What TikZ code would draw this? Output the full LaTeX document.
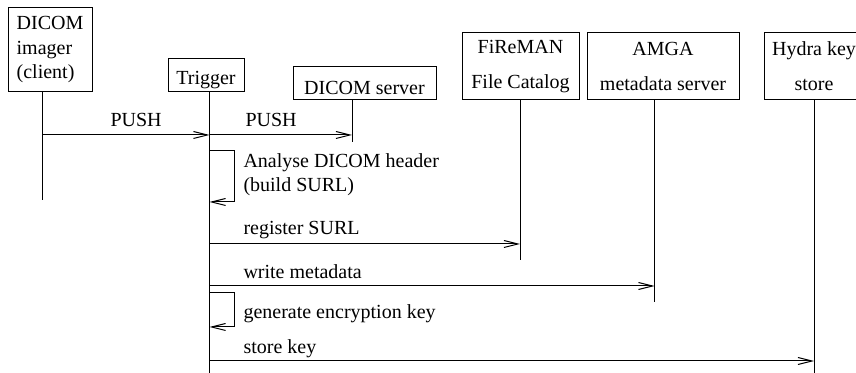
\documentclass[tikz,border=0pt]{standalone}
\usepackage{fontspec}
\setmainfont{Liberation Serif}
\usetikzlibrary{arrows.meta,positioning}

\begin{document}
\begin{tikzpicture}[x=0.5pt,y=-0.5pt,
	font=\fontsize{10}{12.25}\selectfont,
	line width=0.5pt,
	actor/.style={draw, inner sep=0pt, align=center, execute at begin node={\rule{0pt}{11.5pt}}},
	msg/.style={-{Straight Barb[length=7pt,width=3.5pt]}},
	lbl/.style={anchor=base west, inner sep=0pt}]
	\useasboundingbox (0,0) rectangle (856,373);

	\node[actor, align=left, minimum width=42pt, minimum height=42pt] (imager) at (50,50) {DICOM\\imager\\(client)};
	\node[actor, minimum width=38pt, minimum height=16.5pt] (trigger) at (206,75.5) {Trigger};
	\node[actor, minimum width=71.5pt, minimum height=16.5pt] (server) at (364.5,83.5) {DICOM server};
	\node[actor, minimum width=58.5pt, minimum height=33.5pt] (fireman) at (520.5,66.5) {FiReMAN\\[5.25pt]File Catalog};
	\node[actor, minimum width=76pt, minimum height=33.5pt] (amga) at (663,66.5) {AMGA\\[5.25pt]metadata server};
	\node[actor, minimum width=50pt, minimum height=33.5pt] (hydra) at (814,66.5) {Hydra key\\[5.25pt]store};

	\coordinate (imagerend) at (42,200);
	\coordinate (triggerend) at (209.5,373);
	\coordinate (serverend) at (352,142);
	\coordinate (firemanend) at (520,260);
	\coordinate (amgaend) at (654.5,302);
	\coordinate (hydraend) at (814,373);
	\draw (imager.south -| imagerend) -- (imagerend);
	\draw (trigger.south -| triggerend) -- (triggerend);
	\draw (server.south -| serverend) -- (serverend);
	\draw (fireman.south -| firemanend) -- (firemanend);
	\draw (amga.south -| amgaend) -- (amgaend);
	\draw (hydra.south -| hydraend) -- (hydraend);

	\draw[msg] (imagerend |- 0,135) -- (triggerend |- 0,135);
	\node[lbl] (push1) at (110,127) {PUSH};
	\draw[msg] (triggerend |- 0,135) -- (serverend |- 0,135);
	\node[lbl] (push2) at (245,127) {PUSH};

	\draw[msg] (triggerend |- 0,151) -| (234,202) -- (triggerend |- 0,202);
	\node[anchor=west, align=left, inner sep=0pt] (analyse) at (243,174.5) {Analyse DICOM header\\(build SURL)};

	\draw[msg] (triggerend |- 0,244) -- (firemanend |- 0,244);
	\node[lbl] (register) at (243,235) {register SURL};
	\draw[msg] (triggerend |- 0,286) -- (amgaend |- 0,286);
	\node[lbl] (write) at (243,279) {write metadata};

	\draw[msg] (triggerend |- 0,293) -| (234,327) -- (triggerend |- 0,327);
	\node[anchor=west, inner sep=0pt] (genkey) at (243,314) {generate encryption key};

	\draw[msg] (triggerend |- 0,361) -- (hydraend |- 0,361);
	\node[lbl] (store) at (243,354) {store key};
\end{tikzpicture}
\end{document}
